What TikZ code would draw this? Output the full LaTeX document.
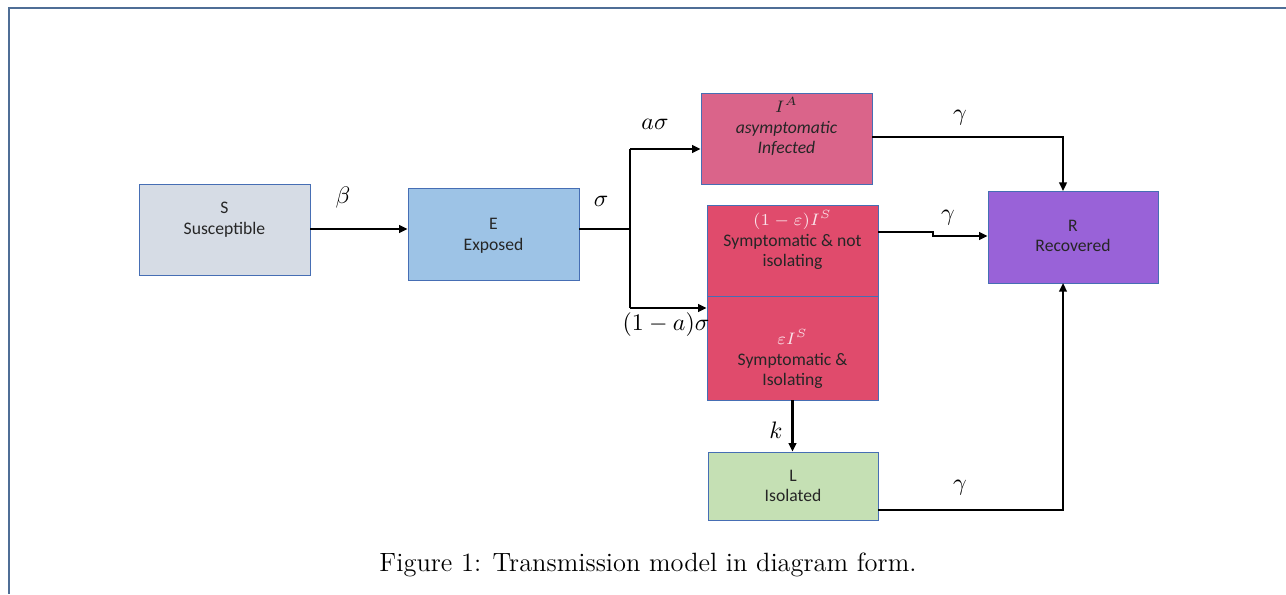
\documentclass[tikz,border=0pt]{standalone}
\usepackage{fontspec}
\newfontfamily\boxfont{Carlito}
\usetikzlibrary{arrows.meta,calc}
\definecolor{frameblue}{RGB}{79,110,150}
\definecolor{boxline}{RGB}{70,110,180}
\definecolor{sfill}{RGB}{214,220,229}
\definecolor{efill}{RGB}{157,195,230}
\definecolor{iafill}{RGB}{218,100,138}
\definecolor{isfill}{RGB}{224,75,108}
\definecolor{rfill}{RGB}{153,98,216}
\definecolor{lfill}{RGB}{197,224,180}
\definecolor{txt}{RGB}{38,38,38}
\definecolor{pale}{RGB}{250,228,234}
\tikzset{
  compbox/.style={draw=boxline, line width=0.35pt, inner sep=0pt},
  btext/.style={align=center, inner sep=0pt, text=txt, font=\boxfont\fontsize{7.4}{8.7}\selectfont},
  ln/.style={line width=0.85pt},
  arr/.style={line width=0.85pt, -{Triangle[length=3.6pt,width=3.2pt]}},
  lab/.style={inner sep=0pt, font=\fontsize{10}{12}\selectfont},
}
\begin{document}
\begin{tikzpicture}[x=0.42pt,y=-0.42pt]
\useasboundingbox (0,0) rectangle (1286,594);
\draw[frameblue, line width=0.8pt] (1286,8) -- (9,8) -- (9,594);

% boxes
\node[compbox, fill=sfill, minimum width={171*0.42pt}, minimum height={91*0.42pt}] (S) at (224.5,229.5) {};
\node[compbox, fill=efill, minimum width={171*0.42pt}, minimum height={92*0.42pt}] (E) at (493.5,234) {};
\node[compbox, fill=iafill, minimum width={171*0.42pt}, minimum height={91*0.42pt}] (IA) at (786.5,138.5) {};
\node[compbox, fill=isfill, minimum width={171*0.42pt}, minimum height={91*0.42pt}] (SN) at (792.5,250.5) {};
\node[compbox, fill=isfill, minimum width={171*0.42pt}, minimum height={104*0.42pt}] (SI) at (792.5,348) {};
\node[compbox, fill=rfill, minimum width={170*0.42pt}, minimum height={92*0.42pt}] (R) at (1073,237) {};
\node[compbox, fill=lfill, minimum width={170*0.42pt}, minimum height={68*0.42pt}] (L) at (793,486) {};

% box texts
\node[btext] (St) at (224.5,219.5) {S\\Susceptible};
\node[btext] (Et) at (493.5,236) {E\\Exposed};
\node[btext, font=\boxfont\itshape\fontsize{7.4}{8.7}\selectfont] (IAt) at (786.5,126.5) {$I^{A}$\\asymptomatic\\Infected};
\node[btext] (SNt) at (792.5,240) {\textcolor{pale}{$(1-\varepsilon)I^{S}$}\\Symptomatic \& not\\isolating};
\node[btext] (SIt) at (792.5,359) {\textcolor{pale}{$\varepsilon I^{S}$}\\Symptomatic \&\\Isolating};
\node[btext] (Rt) at (1073,236) {R\\Recovered};
\node[btext] (Lt) at (793,486) {L\\Isolated};

% junction coordinates
\coordinate (J) at (630,229);
\coordinate (Jt) at (630,149);
\coordinate (Jb) at (630,308);
\coordinate (Rtop) at (1063,191);
\coordinate (Rbot) at (1063,283);
\coordinate (SNout) at (878,232);
\coordinate (Lout) at (878,510);

% connectors
\draw[arr] (S.east |- J) -- (E.west |- J);
\draw[ln] (E.east |- J) -- (J);
\draw[ln] (Jt) -- (Jb);
\draw[arr] (Jt) -- (Jt -| IA.west);
\draw[arr] (Jb) -- (Jb -| SN.west);
\draw[arr] (IA.east |- 0,137) -| (Rtop);
\draw[arr] (SNout) -- (933,232) -- (933,236) -- (R.west |- 0,236);
\draw[arr] (SI.south) -- (SI.south |- L.north);
\draw[arr] (Lout) -| (Rbot);

% rate labels
\node[lab] (beta) at (343,198) {$\beta$};
\node[lab] (sig) at (601,201) {$\sigma$};
\node[lab] (asig) at (655,124) {$a\sigma$};
\node[lab] (bsig) at (666,325) {$(1-a)\sigma$};
\node[lab] (g1) at (960,118) {$\gamma$};
\node[lab] (g2) at (948,218) {$\gamma$};
\node[lab] (kk) at (776,430) {$k$};
\node[lab] (g3) at (960,488) {$\gamma$};

% caption
\node[inner sep=0pt, font=\fontsize{11.1}{13}\selectfont] (cap) at (648,565) {Figure 1: Transmission model in diagram form.};
\end{tikzpicture}
\end{document}
